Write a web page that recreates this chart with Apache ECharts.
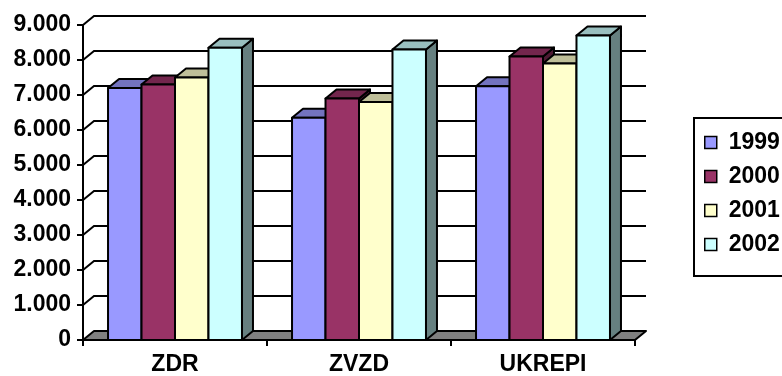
<!DOCTYPE html>
<html>
<head>
<meta charset="utf-8">
<script src="https://cdn.jsdelivr.net/npm/echarts@6/dist/echarts.min.js"></script>
<style>
  html, body { margin: 0; padding: 0; background: #ffffff; }
  #chart { width: 782px; height: 376px; }
</style>
</head>
<body>
<div id="chart"></div>
<script>
// Categories and yearly values
const categories = ['ZDR', 'ZVZD', 'UKREPI'];
const years = ['1999', '2000', '2001', '2002'];
const values1999 = [7200, 6350, 7250];
const values2000 = [7300, 6900, 8100];
const values2001 = [7500, 6800, 7900];
const values2002 = [8350, 8300, 8700];
const yTicks = [0, 1000, 2000, 3000, 4000, 5000, 6000, 7000, 8000, 9000];

const seriesValues = [values1999, values2000, values2001, values2002];
const frontColors = ['#9999FF', '#993366', '#FFFFCC', '#CCFFFF'];

// Oblique depth offset for the pseudo-3D look
const DX = 11;
const DY = -9;
const BAR_FRAC = 0.182;
const FONT = "'Liberation Sans', Arial, sans-serif";

function shade(hex, k) {
  const n = parseInt(hex.slice(1), 16);
  const r = Math.round(((n >> 16) & 255) * k);
  const g = Math.round(((n >> 8) & 255) * k);
  const b = Math.round((n & 255) * k);
  return 'rgb(' + r + ',' + g + ',' + b + ')';
}

function fmtThousands(v) {
  return String(v).replace(/\B(?=(\d{3})+(?!\d))/g, '.');
}

const edge = { stroke: '#000', lineWidth: 2, lineJoin: 'round' };

// Walls: gridlines running along the side wall and across the back wall, plus the floor
function wallRenderer(params, api) {
  const v = api.value(1);
  const cs = params.coordSys;
  const left = cs.x, right = cs.x + cs.width;
  const y = api.coord([0, v])[1];
  if (v === 0) {
    return {
      type: 'polygon',
      shape: { points: [[left, y], [right, y], [right + DX, y + DY], [left + DX, y + DY]] },
      style: Object.assign({ fill: '#808080' }, edge)
    };
  }
  return {
    type: 'polyline',
    shape: { points: [[left, y], [left + DX, y + DY], [right + DX, y + DY]] },
    style: { stroke: '#000', lineWidth: 2, fill: null }
  };
}

function barRenderer(idx, color) {
  const topColor = shade(color, 0.75);
  const sideColor = shade(color, 0.5);
  return function (params, api) {
    const c = api.value(0);
    const v = api.value(1);
    const base = api.coord([c, 0]);
    const tip = api.coord([c, v]);
    const band = api.size([1, 0])[0];
    const w = band * BAR_FRAC;
    const x0 = base[0] - 2 * w + idx * w;
    const yt = tip[1];
    const yb = base[1];
    return {
      type: 'group',
      children: [
        {
          type: 'polygon',
          shape: { points: [[x0 + w, yt], [x0 + w + DX, yt + DY], [x0 + w + DX, yb + DY], [x0 + w, yb]] },
          style: Object.assign({ fill: sideColor }, edge)
        },
        {
          type: 'polygon',
          shape: { points: [[x0, yt], [x0 + w, yt], [x0 + w + DX, yt + DY], [x0 + DX, yt + DY]] },
          style: Object.assign({ fill: topColor }, edge)
        },
        {
          type: 'rect',
          shape: { x: x0, y: yt, width: w, height: yb - yt },
          style: Object.assign({ fill: color }, edge)
        }
      ]
    };
  };
}

const series = [{
  type: 'custom',
  name: 'walls',
  silent: true,
  z: 1,
  renderItem: wallRenderer,
  data: yTicks.map(v => [0, v])
}];

years.forEach((yr, i) => {
  series.push({
    type: 'custom',
    name: yr,
    silent: true,
    z: 2 + i,
    itemStyle: { color: frontColors[i] },
    renderItem: barRenderer(i, frontColors[i]),
    data: seriesValues[i].map((v, c) => [c, v])
  });
});

const chart = echarts.init(document.getElementById('chart'), null, { renderer: 'canvas' });
chart.setOption({
  animation: false,
  backgroundColor: '#ffffff',
  grid: { left: 83, right: 147, top: 25, bottom: 34 },
  xAxis: {
    type: 'category',
    data: categories,
    boundaryGap: true,
    axisLine: { show: true, lineStyle: { color: '#000', width: 2 } },
    axisTick: { show: true, length: 6, lineStyle: { color: '#000', width: 2 } },
    axisLabel: { margin: 13, color: '#000', fontSize: 23, fontWeight: 'bold', fontFamily: FONT },
    splitLine: { show: false }
  },
  yAxis: {
    type: 'value',
    min: 0,
    max: 9000,
    interval: 1000,
    axisLine: { show: true, lineStyle: { color: '#000', width: 2 } },
    axisTick: { show: true, length: 6, lineStyle: { color: '#000', width: 2 } },
    axisLabel: {
      margin: 12, color: '#000', fontSize: 23, fontWeight: 'bold', fontFamily: FONT,
      formatter: v => fmtThousands(v)
    },
    splitLine: { show: false }
  },
  legend: {
    orient: 'vertical',
    left: 694,
    top: 118,
    padding: [13, 12, 20, 10],
    itemGap: 11,
    itemWidth: 12,
    itemHeight: 12,
    icon: 'rect',
    borderColor: '#000',
    borderWidth: 2,
    backgroundColor: '#fff',
    textStyle: { color: '#000', fontSize: 23, fontWeight: 'bold', fontFamily: FONT, padding: [0, 0, 0, 7] },
    data: years.map((yr, i) => ({
      name: yr,
      itemStyle: { color: frontColors[i], borderColor: '#000', borderWidth: 1.5 }
    }))
  },
  series: series
});
</script>
</body>
</html>
